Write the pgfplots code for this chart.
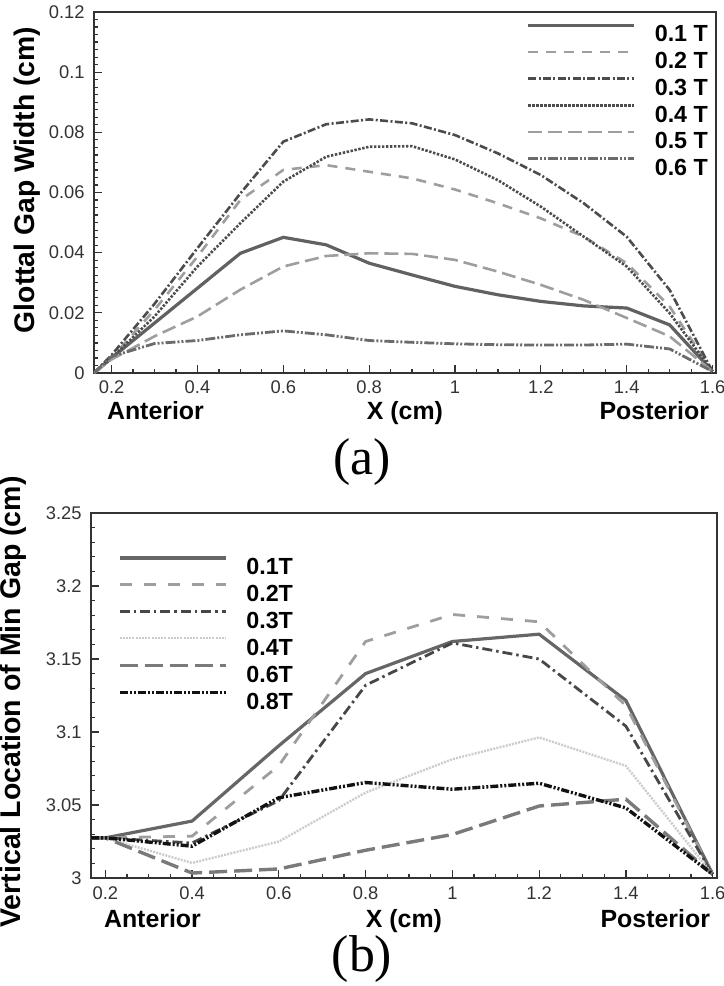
\documentclass[border=0pt]{standalone}
\usepackage{fontspec}
\setmainfont{Liberation Sans}
\newfontfamily\serif{Liberation Serif}
\usepackage{pgfplots}
\pgfplotsset{compat=1.18}
\definecolor{ax}{HTML}{333333}
\tikzset{lab/.style={font=\bfseries\fontsize{12.5}{12.5}\selectfont}}
\pgfplotsset{
  panel/.style={
    scale only axis,
    anchor=south west,
    clip mode=individual,
    axis line style={draw=ax, line width=0.8bp},
    tick align=inside,
    tick pos=left,
    major tick length=4bp,
    minor tick length=2.2bp,
    every tick/.style={ax, line width=0.6bp},
    tick label style={font=\fontsize{9.2}{9.2}\selectfont, text=ax},
    xtick={0.2,0.4,0.6,0.8,1,1.2,1.4,1.6},
    xticklabels={0.2,0.4,0.6,0.8,1,1.2,1.4,1.6},
    minor x tick num=3,
    yticklabel style={inner sep=0pt, anchor=east, xshift=-4.5bp},
    legend image code/.code={\draw[##1] (0bp,4.2bp) -- (53bp,4.2bp);},
    legend cell align=left,
    legend style={draw=none, fill=none, inner sep=0pt, outer sep=0pt,
      row sep=4.3bp, column sep=9.5bp,
      font=\bfseries\fontsize{11.7}{11.7}\selectfont,
      nodes={inner sep=0pt, outer sep=0pt, text height=8.4bp, text depth=0pt}},
  },
}
\begin{document}
\begin{tikzpicture}
\useasboundingbox (0,0) rectangle (362bp,-493bp);
% ---------------- (a) ----------------
\begin{axis}[panel, at={(47bp,-186.5bp)}, width=311bp, height=180.5bp,
  xmin=0.159, xmax=1.608, ymin=0, ymax=0.12,
  ytick={0,0.02,0.04,0.06,0.08,0.1,0.12},
  yticklabels={0,0.02,0.04,0.06,0.08,0.1,0.12},
  minor y tick num=7,
  xticklabel style={inner sep=0pt, anchor=north, yshift=-3.75bp},
  legend style={at={(0.987,0.968)}, anchor=north east}]
\addplot[color=black!62, line width=1.6bp] coordinates {
 (0.159,0) (0.2,0.005) (0.5,0.0398) (0.6,0.0451) (0.7,0.0426) (0.8,0.0365) (0.9,0.0326) (1.0,0.0288) (1.1,0.026) (1.2,0.0238) (1.3,0.0223) (1.4,0.0216) (1.5,0.016) (1.6,0.0005)};
\addlegendentry{0.1 T}
\addplot[color=black!38, line width=1.3bp, dash pattern=on 5bp off 4bp] coordinates {
 (0.159,0) (0.2,0.005) (0.3,0.021) (0.4,0.0387) (0.5,0.0575) (0.6,0.0675) (0.7,0.0691) (0.8,0.0669) (0.9,0.0647) (1.0,0.061) (1.1,0.0564) (1.2,0.0514) (1.3,0.0453) (1.4,0.0365) (1.5,0.0221) (1.6,0.0005)};
\addlegendentry{0.2 T}
\addplot[color=black!70, line width=1.3bp, dash pattern=on 4bp off 1.2bp on 1bp off 1.2bp] coordinates {
 (0.159,0) (0.2,0.006) (0.3,0.023) (0.4,0.0415) (0.5,0.0597) (0.6,0.0769) (0.7,0.0827) (0.8,0.0843) (0.9,0.083) (1.0,0.0791) (1.1,0.073) (1.2,0.0658) (1.3,0.0564) (1.4,0.0453) (1.5,0.0276) (1.6,0.0005)};
\addlegendentry{0.3 T}
\addplot[color=black!70, line width=1.3bp, dash pattern=on 1.2bp off 0.8bp] coordinates {
 (0.159,0) (0.2,0.005) (0.3,0.0188) (0.4,0.0354) (0.5,0.0498) (0.6,0.0636) (0.7,0.0719) (0.8,0.0752) (0.9,0.0754) (1.0,0.071) (1.1,0.0641) (1.2,0.0553) (1.3,0.0453) (1.4,0.0354) (1.5,0.0199) (1.6,0.0005)};
\addlegendentry{0.4 T}
\addplot[color=black!38, line width=1.3bp, dash pattern=on 7bp off 3bp] coordinates {
 (0.159,0) (0.2,0.0045) (0.3,0.0122) (0.4,0.0188) (0.5,0.0277) (0.6,0.0354) (0.7,0.0389) (0.8,0.0398) (0.9,0.0396) (1.0,0.0376) (1.1,0.0337) (1.2,0.0293) (1.3,0.0243) (1.4,0.0183) (1.5,0.0122) (1.6,0.0005)};
\addlegendentry{0.5 T}
\addplot[color=black!58, line width=1.4bp, dash pattern=on 5bp off 1bp on 1bp off 1bp on 1bp off 1bp] coordinates {
 (0.159,0) (0.2,0.0055) (0.3,0.0098) (0.4,0.0108) (0.5,0.0127) (0.6,0.014) (0.7,0.0127) (0.8,0.0108) (0.9,0.0102) (1.0,0.0097) (1.1,0.0094) (1.2,0.0093) (1.3,0.0093) (1.4,0.0096) (1.5,0.008) (1.6,0.0005)};
\addlegendentry{0.6 T}
\node[lab, anchor=base west, xshift=3bp, yshift=-23bp] at (rel axis cs:0,0) {Anterior};
\node[lab, anchor=base, yshift=-23bp] at (rel axis cs:0.5,0) {X (cm)};
\node[lab, anchor=base east, xshift=0bp, yshift=-23bp] at (rel axis cs:1,0) {Posterior};
\end{axis}
\node[rotate=90, anchor=base, font=\bfseries\fontsize{14.2}{14.2}\selectfont] at (17bp,-90bp) {Glottal Gap Width (cm)};
\node[font=\serif\fontsize{26}{26}\selectfont] at (181bp,-231bp) {(a)};
% ---------------- (b) ----------------
\begin{axis}[panel, at={(45.5bp,-439bp)}, width=313bp, height=182.5bp,
  xmin=0.167, xmax=1.61, ymin=3, ymax=3.25,
  ytick={3,3.05,3.1,3.15,3.2,3.25},
  yticklabels={3,3.05,3.1,3.15,3.2,3.25},
  minor y tick num=4,
  xticklabel style={inner sep=0pt, anchor=north, yshift=-4.25bp},
  legend style={at={(0.043,0.881)}, anchor=north west}]
\addplot[color=black!60, line width=1.6bp] coordinates {
 (0.167,3.0275) (0.2,3.0275) (0.4,3.039) (0.6,3.0906) (0.8,3.14) (1.0,3.162) (1.2,3.167) (1.4,3.1216) (1.6,3.0025)};
\addlegendentry{0.1T}
\addplot[color=black!38, line width=1.4bp, dash pattern=on 6bp off 6bp] coordinates {
 (0.167,3.0275) (0.2,3.0275) (0.4,3.0287) (0.6,3.077) (0.8,3.162) (1.0,3.1805) (1.2,3.1755) (1.4,3.118) (1.6,3.0025)};
\addlegendentry{0.2T}
\addplot[color=black!72, line width=1.4bp, dash pattern=on 5bp off 2bp on 1.2bp off 2bp] coordinates {
 (0.167,3.0275) (0.2,3.0275) (0.4,3.024) (0.6,3.053) (0.8,3.132) (1.0,3.161) (1.2,3.15) (1.4,3.104) (1.6,3.0025)};
\addlegendentry{0.3T}
\addplot[color=black!20, line width=1.2bp, dash pattern=on 1bp off 0.6bp] coordinates {
 (0.167,3.0275) (0.2,3.0275) (0.4,3.0103) (0.6,3.025) (0.8,3.0585) (1.0,3.0814) (1.2,3.0963) (1.4,3.0768) (1.6,3.0025)};
\addlegendentry{0.4T}
\addplot[color=black!52, line width=1.7bp, dash pattern=on 9bp off 3.5bp] coordinates {
 (0.167,3.0275) (0.2,3.0275) (0.4,3.0034) (0.6,3.0062) (0.8,3.019) (1.0,3.0298) (1.2,3.0493) (1.4,3.054) (1.6,3.0025)};
\addlegendentry{0.6T}
\addplot[color=black!93, line width=1.7bp, dash pattern=on 4bp off 1bp on 1bp off 1bp on 1bp off 1bp] coordinates {
 (0.167,3.0275) (0.2,3.0275) (0.4,3.0218) (0.6,3.055) (0.8,3.0654) (1.0,3.0608) (1.2,3.0649) (1.4,3.048) (1.6,3.0025)};
\addlegendentry{0.8T}
\node[lab, anchor=base west, xshift=3bp, yshift=-24.5bp] at (rel axis cs:0,0) {Anterior};
\node[lab, anchor=base, yshift=-24.5bp] at (rel axis cs:0.5,0) {X (cm)};
\node[lab, anchor=base east, xshift=0bp, yshift=-24.5bp] at (rel axis cs:1,0) {Posterior};
\end{axis}
\node[rotate=90, anchor=base, font=\bfseries\fontsize{14.3}{14.3}\selectfont] at (10bp,-351bp) {Vertical Location of Min Gap (cm)};
\node[font=\serif\fontsize{26}{26}\selectfont] at (181bp,-479.5bp) {(b)};
\end{tikzpicture}
\end{document}
